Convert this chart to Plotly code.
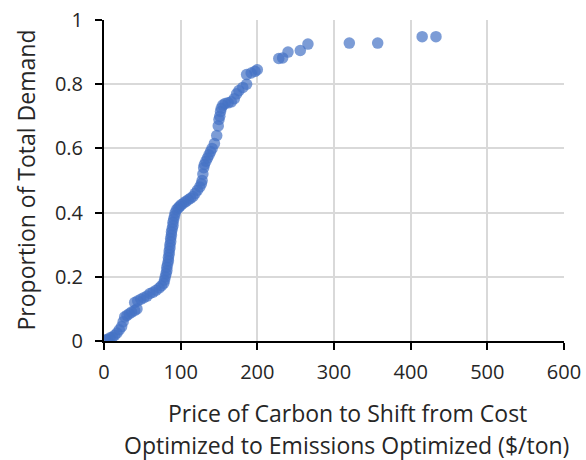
import plotly.graph_objects as go

price = [2, 5, 8, 11, 14, 17, 20, 23, 25, 27, 30, 33, 36, 40, 43, 40, 44, 48, 52, 56,
         60, 64, 68, 72, 75, 78, 79, 80, 81, 82, 82, 83, 84, 84, 85, 85, 86, 86, 87, 87,
         88, 88, 89, 90, 90, 91, 92, 93, 95, 97, 99, 101, 104, 107, 110, 113, 116, 119, 122, 125,
         127, 128, 129, 130, 131, 133, 135, 137, 139, 141, 144, 147, 149, 150, 151, 152, 153, 155, 158, 162,
         166, 170, 173, 176, 181, 186, 186, 192, 197, 200, 228, 233, 240, 256, 266, 320, 357, 415, 433]
proportion = [0.003, 0.005, 0.01, 0.012, 0.018, 0.025, 0.035, 0.045, 0.06, 0.075, 0.08, 0.085, 0.09, 0.095, 0.1, 0.12, 0.125, 0.13, 0.135, 0.14,
              0.148, 0.152, 0.158, 0.165, 0.172, 0.18, 0.19, 0.2, 0.21, 0.22, 0.23, 0.24, 0.25, 0.26, 0.27, 0.28, 0.29, 0.3, 0.31, 0.32,
              0.33, 0.34, 0.35, 0.36, 0.37, 0.38, 0.39, 0.4, 0.41, 0.415, 0.42, 0.425, 0.43, 0.435, 0.44, 0.445, 0.45, 0.46, 0.47, 0.48,
              0.49, 0.5, 0.52, 0.54, 0.55, 0.56, 0.57, 0.58, 0.59, 0.6, 0.615, 0.64, 0.67, 0.69, 0.7, 0.715, 0.725, 0.735, 0.74, 0.742,
              0.745, 0.755, 0.77, 0.78, 0.79, 0.8, 0.83, 0.835, 0.84, 0.845, 0.88, 0.882, 0.9, 0.905, 0.925, 0.928, 0.928, 0.948, 0.948]

x_ticks = [0, 100, 200, 300, 400, 500, 600]
y_ticks = [0, 0.2, 0.4, 0.6, 0.8, 1]
y_tick_text = ["0", "0.2", "0.4", "0.6", "0.8", "1"]

x_title_lines = ["Price of Carbon to Shift from Cost",
                 "Optimized to Emissions Optimized ($/ton)"]
y_title = "Proportion of Total Demand"

FONT = "Open Sans"
TXT = "#262626"

fig = go.Figure()
fig.add_trace(go.Scatter(
    x=price, y=proportion, mode="markers",
    marker=dict(size=11.5, color="#4472C4", opacity=0.7, line=dict(width=0)),
    showlegend=False,
))

fig.update_layout(
    width=586, height=460,
    margin=dict(l=104, r=22, t=20, b=119),
    paper_bgcolor="white", plot_bgcolor="white",
    font=dict(family=FONT, color=TXT, size=20),
    xaxis=dict(
        range=[0, 600], tickvals=x_ticks, showgrid=True, gridcolor="#d9d9d9", gridwidth=1.5,
        showline=True, linecolor="black", linewidth=2, ticks="outside", ticklen=7,
        tickcolor="black", tickwidth=2, tickfont=dict(size=20, family=FONT, color=TXT),
        zeroline=False, automargin=False, ticklabelstandoff=5,
    ),
    yaxis=dict(
        range=[0, 1], tickvals=y_ticks, ticktext=y_tick_text, showgrid=True, gridcolor="#d9d9d9",
        gridwidth=1.5, showline=True, linecolor="black", linewidth=2, ticks="outside", ticklen=7,
        tickcolor="black", tickwidth=2, tickfont=dict(size=20, family=FONT, color=TXT),
        zeroline=False, automargin=False, ticklabelstandoff=8,
    ),
    annotations=[
        dict(text=x_title_lines[0], xref="paper", yref="paper", x=0.530, y=(341 - 413) / 321,
             xanchor="center", yanchor="middle", showarrow=False,
             font=dict(size=23, family=FONT, color=TXT)),
        dict(text=x_title_lines[1], xref="paper", yref="paper", x=0.528, y=(341 - 445) / 321,
             xanchor="center", yanchor="middle", showarrow=False,
             font=dict(size=23, family=FONT, color=TXT)),
        dict(text=y_title, xref="paper", yref="paper", x=(25 - 104) / 460, y=0.5,
             xanchor="center", yanchor="middle", textangle=-90, showarrow=False,
             font=dict(size=23, family=FONT, color=TXT)),
    ],
)

fig.write_html("out.html")
